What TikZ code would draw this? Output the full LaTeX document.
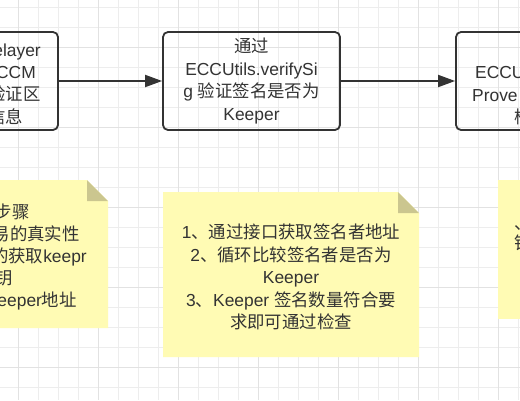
\documentclass[tikz,border=0pt]{standalone}
\usepackage{fontspec}
\setmainfont{Liberation Sans}
\newfontfamily\cjkfont{Noto Sans CJK SC}
\newcommand\zh[1]{{\cjkfont #1}}
\usetikzlibrary{arrows.meta}
\definecolor{ink}{HTML}{333333}
\definecolor{notefill}{HTML}{FFFBB4}
\definecolor{foldfill}{HTML}{CBC68F}
\definecolor{gridminor}{HTML}{EDEDED}
\definecolor{gridmajor}{HTML}{E2E2E2}
\begin{document}
\begin{tikzpicture}[x=1pt,y=-1pt,
  box/.style={draw=ink, line width=1.8pt, rounded corners=5pt, minimum width=177pt, minimum height=98pt, inner sep=0pt},
  txt/.style={text=ink, font=\fontsize{17.4}{22.4}\selectfont, inner sep=0pt},
  conn/.style={draw=ink, line width=1.8pt, -{Triangle[length=17pt,width=12pt]}},
  note/.style={fill=notefill},
  fold/.style={fill=foldfill},
]
\useasboundingbox (0,0) rectangle (520,400);
\fill[white] (0,0) rectangle (520,400);
\begin{scope}
\clip (0,0) rectangle (520,400);
% grid
\foreach \x in {-2,18,...,518} \draw[gridminor, line width=0.8pt] (\x,0) -- (\x,400);
\foreach \y in {7,27,...,400} \draw[gridminor, line width=0.8pt] (0,\y) -- (520,\y);
\foreach \x in {18,98,...,518} \draw[gridmajor, line width=1pt] (\x,0) -- (\x,400);
\foreach \y in {47,127,...,400} \draw[gridmajor, line width=1pt] (0,\y) -- (520,\y);

% sticky notes
\path[note] (-116,180) -- (87,180) -- (108,201) -- (108,328) -- (-116,328) -- cycle;
\path[fold] (87,180) -- (87,201) -- (108,201) -- cycle;
\path[note] (163,192) -- (398,192) -- (419,213) -- (419,357) -- (163,357) -- cycle;
\path[fold] (398,192) -- (398,213) -- (419,213) -- cycle;
\path[note] (498,180) rectangle (720,319);

% boxes
\node[box] (b1) at (-30.5,81) {};
\node[box, txt, align=center] (b2) at (251.5,81) {\zh{通过}\\ECCUtils.verifySi\\g \zh{验证签名是否为}\\Keeper};
\node[box] (b3) at (544.5,81) {};

% box 1 text (cut by the left edge)
\node[txt, anchor=base east] (b1a) at (41,56.5) {Relayer};
\node[txt, anchor=base east] (b1b) at (36,78.5) {ECCM};
\node[txt, anchor=base east] (b1c) at (41,100.5) {\zh{验证区}};
\node[txt, anchor=base east] (b1d) at (23,123.5) {\zh{信息}};

% box 3 text (cut by the right edge)
\node[txt, anchor=base west] (b3a) at (475,78.5) {ECCUtils};
\node[txt, anchor=base west] (b3b) at (472,101.5) {Prove \zh{验证}};
\node[txt, anchor=base west] (b3c) at (514,123.5) {\zh{检查}};

% connectors
\draw[conn] (b1.east) -- (b2.west);
\draw[conn] (b2.east) -- (b3.west);

% note 1 text (cut by the left edge)
\node[txt, anchor=base east] (n1a) at (30,218.5) {\zh{验证步骤}};
\node[txt, anchor=base east] (n1b) at (80,240.5) {\zh{交易的真实性}};
\node[txt, anchor=base east] (n1c) at (87,262.5) {\zh{的获取}keepr};
\node[txt, anchor=base east] (n1d) at (13,284.5) {\zh{公钥}};
\node[txt, anchor=base east] (n1e) at (77,306.5) {Keeper\zh{地址}};

% note 2 text
\node[txt, align=center] (n2) at (291,277) {1\zh{、通过接口获取签名者地址}\\2\zh{、循环比较签名者是否为}\\Keeper\\3\zh{、}Keeper \zh{签名数量符合要}\\\zh{求即可通过检查}};

% note 3 text (cut by the right edge)
\node[txt, anchor=base west] (n3a) at (514,229.5) {\zh{、验}};
\node[txt, anchor=base west] (n3b) at (514,249.5) {\zh{钥}};
\end{scope}
\end{tikzpicture}
\end{document}
